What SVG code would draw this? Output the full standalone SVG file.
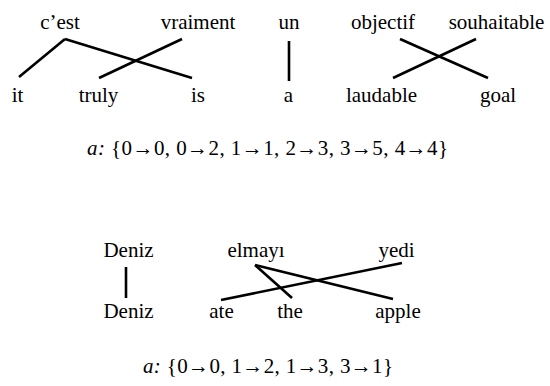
<svg xmlns="http://www.w3.org/2000/svg" width="550" height="386" viewBox="0 0 550 386" font-family="'Liberation Serif', 'Times New Roman', serif">
<style>
text{font-family:'Liberation Serif','Times New Roman',serif;font-size:21px;fill:#000;text-anchor:middle}
.c line{stroke:#000;stroke-width:2.6;stroke-linecap:butt}
.i{font-style:italic}
</style>
<rect width="550" height="386" fill="#fff"/>
<g id="src1">
<g id="s0"><text x="60" y="29">c’est</text></g>
<g id="s1"><text x="198" y="29">vraiment</text></g>
<g id="s2"><text x="289" y="29">un</text></g>
<g id="s3"><text x="383" y="29">objectif</text></g>
<g id="s4"><text x="496.5" y="29">souhaitable</text></g>
</g>
<g id="tgt1">
<g id="t0"><text x="17.5" y="102">it</text></g>
<g id="t1"><text x="98.5" y="102">truly</text></g>
<g id="t2"><text x="198" y="102">is</text></g>
<g id="t3"><text x="288.5" y="102">a</text></g>
<g id="t4"><text x="381.5" y="102">laudable</text></g>
<g id="t5"><text x="498" y="102">goal</text></g>
</g>
<g id="f1"><text x="267.5" y="155" textLength="361" lengthAdjust="spacing"><tspan class="i">a:</tspan> {0→0, 0→2, 1→1, 2→3, 3→5, 4→4}</text></g>
<g id="src2">
<g id="u0"><text x="128.5" y="257">Deniz</text></g>
<g id="u1"><text x="256" y="257">elmayı</text></g>
<g id="u2"><text x="396.5" y="257">yedi</text></g>
</g>
<g id="tgt2">
<g id="v0"><text x="128.5" y="318">Deniz</text></g>
<g id="v1"><text x="221.5" y="318">ate</text></g>
<g id="v2"><text x="290" y="318">the</text></g>
<g id="v3"><text x="398" y="318">apple</text></g>
</g>
<g id="f2"><text x="268" y="373" textLength="250" lengthAdjust="spacing"><tspan class="i">a:</tspan> {0→0, 1→2, 1→3, 3→1}</text></g>
<g id="connectors" class="c">
<line x1="65" y1="39" x2="19" y2="77"/>
<line x1="65" y1="39" x2="192" y2="78"/>
<line x1="182" y1="39" x2="99" y2="78"/>
<line x1="289" y1="41" x2="289" y2="81"/>
<line x1="400" y1="39" x2="488" y2="78"/>
<line x1="476" y1="39" x2="393" y2="78"/>
<line x1="126" y1="267" x2="126" y2="298"/>
<line x1="255" y1="265" x2="292" y2="298"/>
<line x1="255" y1="265" x2="393" y2="299"/>
<line x1="402" y1="263" x2="221" y2="300"/>
</g>
</svg>
